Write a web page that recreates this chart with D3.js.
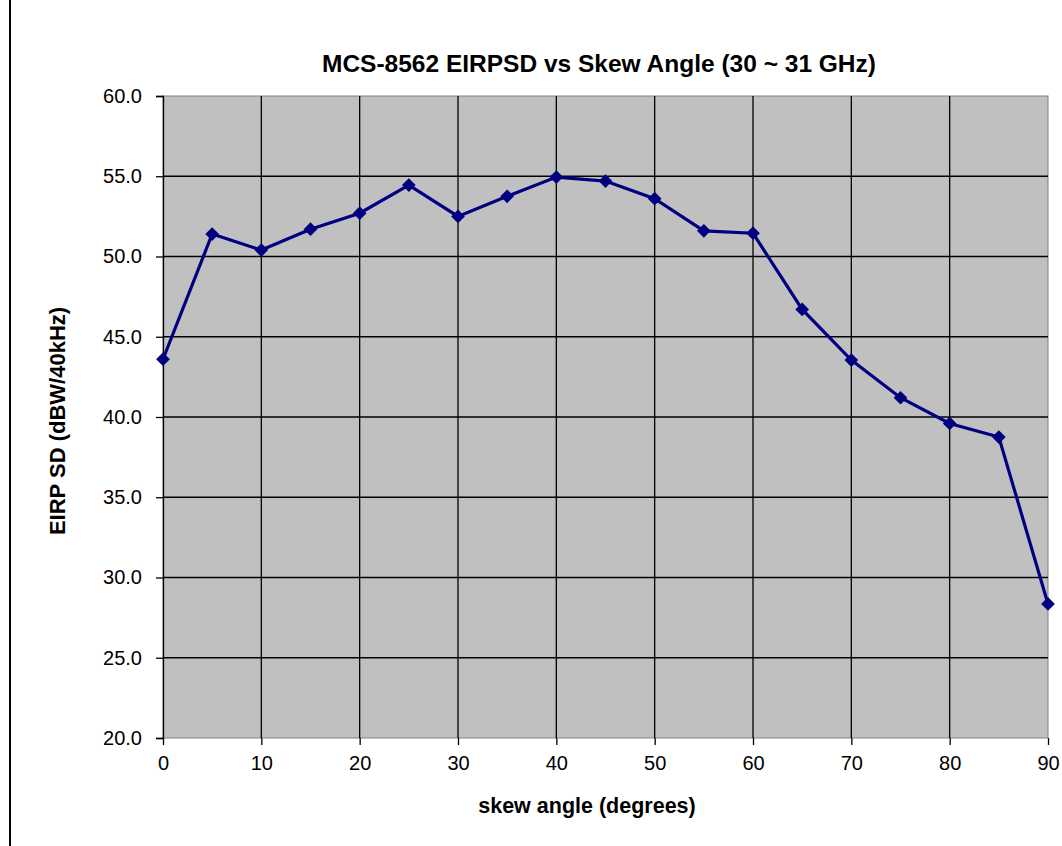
<!DOCTYPE html>
<html>
<head>
<meta charset="utf-8">
<script src="https://cdn.jsdelivr.net/npm/d3@7"></script>
<style>
  body { margin: 0; background: #fff; }
  text { font-family: "Liberation Sans", Arial, sans-serif; }
</style>
</head>
<body>
<div id="chart"></div>
<script>
// skew angle (degrees) and EIRP SD (dBW/40kHz)
const angles = [0, 5, 10, 15, 20, 25, 30, 35, 40, 45, 50, 55, 60, 65, 70, 75, 80, 85, 90];
const eirpsd = [43.6, 51.4, 50.4, 51.7, 52.7, 54.45, 52.5, 53.75, 54.95, 54.7, 53.6, 51.6, 51.45, 46.7, 43.55, 41.2, 39.6, 38.75, 28.35];
const xTicks = [0, 10, 20, 30, 40, 50, 60, 70, 80, 90];
const yTicks = [20, 25, 30, 35, 40, 45, 50, 55, 60];

const width = 1062, height = 846;
const margin = {top: 96, right: 14, bottom: 108, left: 163};
const pw = width - margin.left - margin.right,
      ph = height - margin.top - margin.bottom;

const svg = d3.select("#chart").append("svg")
    .attr("width", width)
    .attr("height", height);

// left border line of the page
svg.append("line")
    .attr("x1", 10).attr("x2", 10)
    .attr("y1", 0).attr("y2", height)
    .attr("stroke", "#000").attr("stroke-width", 2);

const g = svg.append("g")
    .attr("transform", "translate(" + margin.left + "," + margin.top + ")");

let x = d3.scaleLinear().domain([0, 90]).range([0, pw]);
let y = d3.scaleLinear().domain([20, 60]).range([ph, 0]);

g.append("rect")
    .attr("width", pw).attr("height", ph)
    .attr("fill", "#c0c0c0")
    .attr("stroke", "#808080");

// gridlines
g.append("g")
    .selectAll("line")
    .data(yTicks.slice(1, -1))
    .join("line")
    .attr("x1", 0).attr("x2", pw)
    .attr("y1", d => y(d)).attr("y2", d => y(d))
    .attr("stroke", "#000").attr("stroke-width", 1.3);
g.append("g")
    .selectAll("line")
    .data(xTicks.slice(1, -1))
    .join("line")
    .attr("x1", d => x(d)).attr("x2", d => x(d))
    .attr("y1", 0).attr("y2", ph)
    .attr("stroke", "#000").attr("stroke-width", 1.3);

let xAxis = g => g
    .attr("transform", `translate(0,${ph})`)
    .call(d3.axisBottom(x).tickValues(xTicks).tickSize(7).tickPadding(11))
    .call(g => g.select(".domain").remove())
    .call(g => g.selectAll(".tick line").attr("stroke-width", 1.3))
    .call(g => g.selectAll(".tick text").style("font-size", "20px").attr("fill", "#000"))

let yAxis = g => g
    .call(d3.axisLeft(y).tickValues(yTicks).tickFormat(d3.format(".1f")).tickSize(7).tickPadding(14))
    .call(g => g.select(".domain").attr("stroke-width", 1.3))
    .call(g => g.selectAll(".tick line").attr("stroke-width", 1.3))
    .call(g => g.selectAll(".tick text").style("font-size", "20px").attr("fill", "#000"))

g.append("g").call(xAxis);
g.append("g").call(yAxis);

// series line
const data = angles.map((a, i) => ({a: a, v: eirpsd[i]}));
g.append("path")
    .datum(data)
    .attr("fill", "none")
    .attr("stroke", "#000080")
    .attr("stroke-width", 3.2)
    .attr("d", d3.line().x(d => x(d.a)).y(d => y(d.v)));

g.append("g")
    .selectAll("path")
    .data(data)
    .join("path")
    .attr("transform", d => "translate(" + x(d.a) + "," + y(d.v) + ")")
    .attr("d", d3.symbol(d3.symbolDiamond2, 120))
    .attr("fill", "#000080");

// titles
svg.append("text")
    .attr("x", 599).attr("y", 72)
    .attr("text-anchor", "middle")
    .style("font-size", "24.5px").style("font-weight", "bold")
    .text("MCS-8562 EIRPSD vs Skew Angle (30 ~ 31 GHz)");

svg.append("text")
    .attr("x", 587).attr("y", 813)
    .attr("text-anchor", "middle")
    .style("font-size", "21.5px").style("font-weight", "bold")
    .text("skew angle (degrees)");

svg.append("text")
    .attr("transform", "translate(65,421) rotate(-90)")
    .attr("text-anchor", "middle")
    .style("font-size", "22px").style("font-weight", "bold")
    .text("EIRP SD (dBW/40kHz)");
</script>
</body>
</html>
